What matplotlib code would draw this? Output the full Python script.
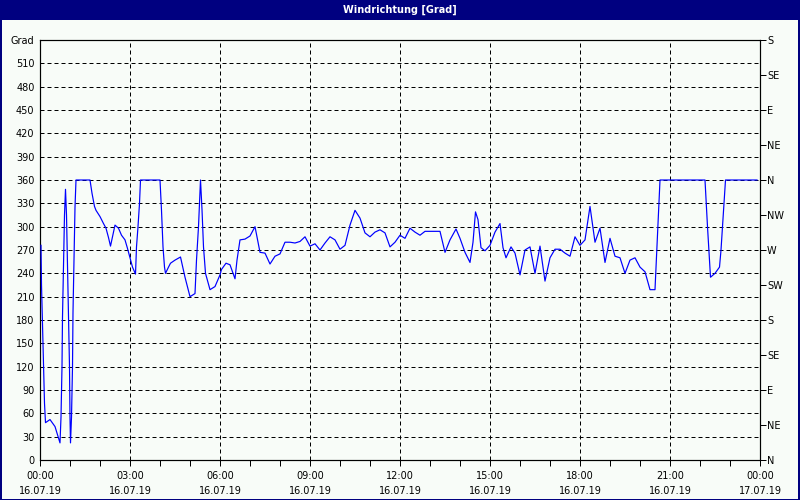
import matplotlib
matplotlib.use("Agg")
import matplotlib.pyplot as plt
from matplotlib.patches import Rectangle

# minutes since 16.07.19 00:00 and wind direction in degrees
minutes = [2, 3, 5, 7, 9, 11, 20, 30, 40, 42, 44, 45, 47, 49, 51, 53, 55, 57, 59, 60,
           61, 63, 65, 66, 68, 70, 72, 100, 104, 109, 112, 120, 127, 132, 137, 141, 150,
           157, 163, 170, 175, 180, 185, 191, 193, 196, 199, 201, 240, 243, 246, 249, 251,
           257, 261, 270, 281, 290, 300, 310, 313, 317, 321, 324, 327, 331, 340, 350, 360,
           363, 372, 380, 390, 394, 400, 410, 420, 430, 440, 450, 460, 470, 480, 490, 500,
           510, 520, 530, 540, 550, 560, 570, 580, 590, 600, 610, 620, 630, 640, 650, 660,
           670, 680, 690, 700, 710, 720, 730, 740, 750, 760, 770, 780, 790, 800, 810, 820,
           832, 840, 850, 860, 866, 871, 876, 882, 890, 900, 910, 920, 926, 932, 942, 950,
           960, 970, 980, 990, 1000, 1010, 1020, 1030, 1040, 1050, 1060, 1070, 1080, 1090,
           1100, 1110, 1120, 1130, 1140, 1150, 1160, 1170, 1180, 1190, 1200, 1210, 1220,
           1230, 1235, 1240, 1330, 1335, 1340, 1341, 1350, 1359, 1362, 1365, 1371, 1434]
grad = [276, 225, 176, 125, 73, 48, 52, 43, 22, 55, 120, 184, 251, 315, 348, 315, 250, 184,
        120, 55, 22, 55, 120, 190, 260, 325, 360, 360, 343, 326, 321, 313, 304, 298, 286,
        275, 302, 298, 289, 283, 272, 260, 248, 239, 274, 300, 330, 360, 360, 321, 274, 248,
        240, 248, 253, 257, 261, 235, 210, 214, 257, 300, 360, 322, 274, 240, 219, 223, 238,
        245, 253, 251, 233, 257, 283, 284, 288, 300, 267, 266, 252, 262, 265, 280, 280, 279,
        281, 287, 275, 278, 270, 279, 287, 283, 271, 276, 302, 321, 311, 292, 287, 293, 296,
        292, 274, 280, 289, 285, 298, 293, 289, 294, 294, 294, 294, 267, 283, 297, 285, 267,
        254, 280, 319, 309, 273, 269, 276, 293, 304, 273, 260, 274, 266, 238, 270, 274, 240,
        275, 230, 260, 271, 271, 266, 262, 287, 276, 283, 326, 280, 298, 254, 285, 262, 260,
        240, 257, 260, 248, 242, 219, 219, 289, 360, 360, 300, 247, 235, 240, 248, 270, 300,
        360, 360]

grad_ticks = list(range(0, 541, 30))
grad_labels = [str(v) for v in range(0, 511, 30)] + ["Grad"]
compass_ticks = list(range(0, 541, 45))
compass_labels = ["N", "NE", "E", "SE", "S", "SW", "W", "NW", "N", "NE", "E", "SE", "S"]
time_ticks = list(range(0, 1441, 180))
time_labels = ["00:00\n16.07.19", "03:00\n16.07.19", "06:00\n16.07.19", "09:00\n16.07.19",
               "12:00\n16.07.19", "15:00\n16.07.19", "18:00\n16.07.19", "21:00\n16.07.19",
               "00:00\n17.07.19"]

navy = "#000080"
bg = "#f8fcf8"
px = 0.72  # one pixel in points at dpi 100

plt.rcParams["font.family"] = ["DejaVu Sans"]
plt.rcParams["font.size"] = 7

fig = plt.figure(figsize=(8, 5), dpi=100, facecolor=bg)
ax = fig.add_axes([40 / 800, 40 / 500, 720 / 800, 420 / 500])
ax.set_facecolor(bg)

# title bar and frame
fig.patches.append(Rectangle((0, 480 / 500), 1, 20 / 500, transform=fig.transFigure,
                             facecolor=navy, edgecolor="none", zorder=0))
fig.patches.append(Rectangle((0.0008, 0.001), 0.998, 0.998, transform=fig.transFigure,
                             facecolor="none", edgecolor=navy, lw=2 * px, zorder=5))
fig.text(0.5, 490 / 500, "Windrichtung [Grad]", color="white", fontweight="bold",
         ha="center", va="center", fontsize=7)

ax.plot(minutes, grad, color="#0000ff", lw=1.2 * px, zorder=3)

ax.set_xlim(0, 1440)
ax.set_ylim(0, 540)

ax.set_yticks(grad_ticks)
ax.set_yticklabels(grad_labels)
ax.set_xticks(time_ticks)
ax.set_xticklabels(time_labels, linespacing=1.55)
ax.set_xticks(range(0, 1441, 60), minor=True)
ax.tick_params(axis="y", which="both", length=0, pad=4)
ax.tick_params(axis="x", which="both", length=4, width=px, direction="out", pad=4)

for v in range(30, 511, 30):
    ax.axhline(v, color="black", lw=px, ls=(0, (4, 3)), zorder=1)
for t in range(180, 1440, 180):
    ax.axvline(t, color="black", lw=px, ls=(0, (4, 3)), zorder=1)

for sp in ax.spines.values():
    sp.set_linewidth(1.2 * px)
    sp.set_color("black")

ax2 = ax.twinx()
ax2.set_ylim(0, 540)
ax2.set_yticks(compass_ticks)
ax2.set_yticklabels(compass_labels)
ax2.tick_params(axis="y", length=4, width=px, direction="out", pad=1)
for sp in ax2.spines.values():
    sp.set_visible(False)

fig.savefig("out.png", dpi=100, facecolor=bg)
